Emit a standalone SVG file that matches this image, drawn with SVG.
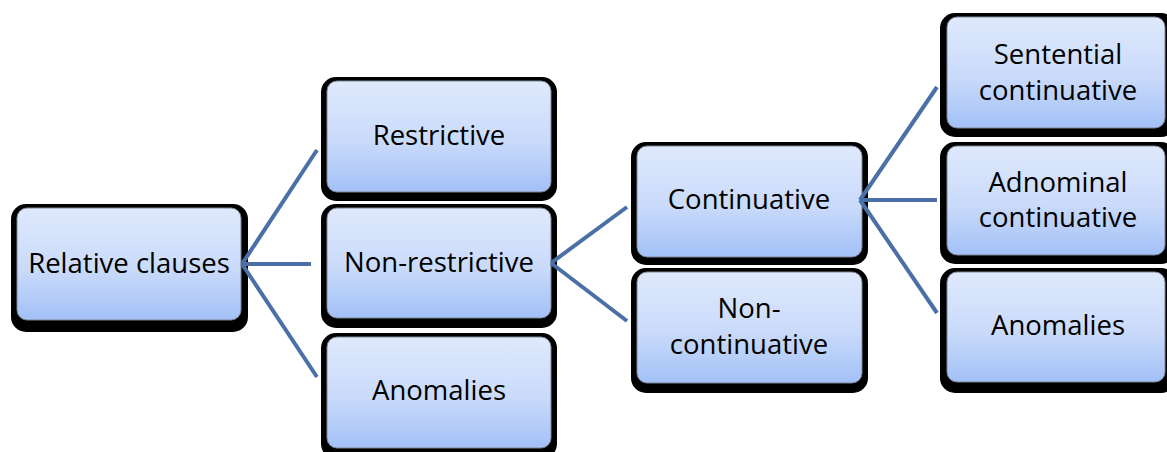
<svg xmlns="http://www.w3.org/2000/svg" width="1167" height="452" viewBox="0 0 1167 452">
<defs>
<linearGradient id="fill" x1="0" y1="0" x2="0" y2="1">
<stop offset="0" stop-color="#dfe9fc"/>
<stop offset="0.55" stop-color="#c9dafa"/>
<stop offset="1" stop-color="#a2c1f7"/>
</linearGradient>
</defs>
<style>
.sh{fill:#000}
.bx{fill:url(#fill);stroke:#7d8594;stroke-width:1}
.t{font-family:"Open Sans","Liberation Sans",sans-serif;font-size:27.5px;fill:#000;text-anchor:middle}
.c{stroke:#4a70a6;stroke-width:4;fill:none;stroke-linecap:butt}
</style>
<rect width="1167" height="452" fill="#fff"/>
<g id="n-relative">
<rect class="sh" x="11" y="204" width="237" height="128" rx="15"/>
<rect class="bx" x="17" y="208" width="224" height="112" rx="10"/>
<text class="t" x="129" y="273">Relative clauses</text>
</g>
<g id="n-restrictive">
<rect class="sh" x="321" y="77" width="236" height="124" rx="15"/>
<rect class="bx" x="327" y="81" width="224" height="111" rx="10"/>
<text class="t" x="439" y="145">Restrictive</text>
</g>
<g id="n-nonrestrictive">
<rect class="sh" x="321" y="204" width="236" height="124" rx="15"/>
<rect class="bx" x="327" y="208" width="224" height="110" rx="10"/>
<text class="t" x="439" y="272">Non-restrictive</text>
</g>
<g id="n-anomalies1">
<rect class="sh" x="321" y="333" width="236" height="126" rx="15"/>
<rect class="bx" x="327" y="337" width="224" height="111" rx="10"/>
<text class="t" x="439" y="400">Anomalies</text>
</g>
<g id="n-continuative">
<rect class="sh" x="631" y="142" width="237" height="123" rx="15"/>
<rect class="bx" x="637" y="146" width="225" height="111" rx="10"/>
<text class="t" x="749" y="209">Continuative</text>
</g>
<g id="n-noncontinuative">
<rect class="sh" x="631" y="268" width="237" height="125" rx="15"/>
<rect class="bx" x="637" y="272" width="225" height="111" rx="10"/>
<text class="t" x="749" y="318">Non-</text>
<text class="t" x="749" y="354">continuative</text>
</g>
<g id="n-sentential">
<rect class="sh" x="940" y="13" width="236" height="124" rx="15"/>
<rect class="bx" x="947" y="17" width="218" height="111" rx="10"/>
<text class="t" x="1058" y="64">Sentential</text>
<text class="t" x="1058" y="100">continuative</text>
</g>
<g id="n-adnominal">
<rect class="sh" x="940" y="142" width="236" height="122" rx="15"/>
<rect class="bx" x="947" y="146" width="218" height="109" rx="10"/>
<text class="t" x="1058" y="192">Adnominal</text>
<text class="t" x="1058" y="227">continuative</text>
</g>
<g id="n-anomalies2">
<rect class="sh" x="940" y="268" width="236" height="125" rx="15"/>
<rect class="bx" x="947" y="272" width="218" height="110" rx="10"/>
<text class="t" x="1058" y="335">Anomalies</text>
</g>
<g id="connectors">
<line class="c" x1="242" y1="264" x2="317" y2="150"/>
<line class="c" x1="242" y1="264" x2="311" y2="264"/>
<line class="c" x1="242" y1="264" x2="317" y2="377"/>
<line class="c" x1="551" y1="263" x2="627" y2="207"/>
<line class="c" x1="551" y1="263" x2="627" y2="321"/>
<line class="c" x1="860" y1="200" x2="937" y2="87"/>
<line class="c" x1="860" y1="200" x2="937" y2="200"/>
<line class="c" x1="860" y1="200" x2="937" y2="313"/>
</g>
</svg>
